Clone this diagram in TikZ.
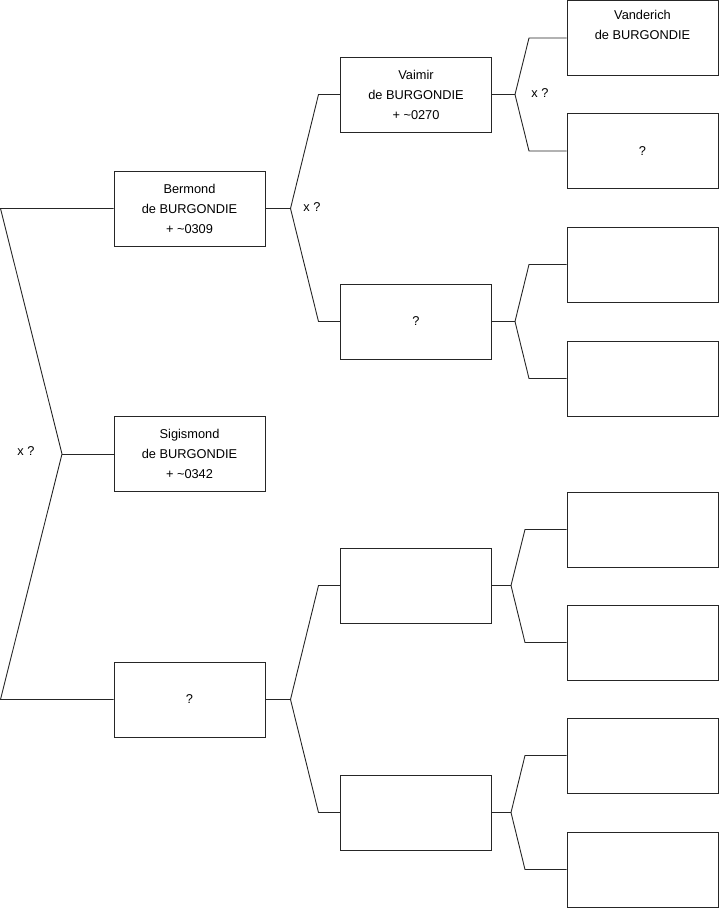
\documentclass[tikz,border=0pt]{standalone}
\usepackage{fontspec}
\setmainfont{Liberation Sans}
\begin{document}
\begin{tikzpicture}[x=1pt,y=-1pt,
  person/.style={draw=black!85,line width=0.9pt,minimum width=151pt,minimum height=75pt,inner sep=0pt,align=center,font=\fontsize{12.8}{20}\selectfont},
  link/.style={draw=black!85,line width=0.9pt},
  lbl/.style={font=\fontsize{12.8}{14}\selectfont,inner sep=0pt}]
\useasboundingbox (0,0) rectangle (719,908);
% generation 1
\node[person] (bermond) at (189.5,208.5) {Bermond\\de BURGONDIE\\+ \textasciitilde0309};
\node[person] (sigismond) at (189.5,454) {Sigismond\\de BURGONDIE\\+ \textasciitilde0342};
\node[person] (q1) at (189.5,699.5) {?};
% generation 2
\node[person] (vaimir) at (416,94.5) {Vaimir\\de BURGONDIE\\+ \textasciitilde0270};
\node[person] (q2) at (416,321.5) {?};
\node[person] (e1) at (416,585.5) {};
\node[person] (e2) at (416,812.5) {};
% generation 3
\node[person] (vanderich) at (642.5,38) {Vanderich\\de BURGONDIE\\\strut};
\node[person] (q3) at (642.5,151) {?};
\node[person] (r3) at (642.5,264.5) {};
\node[person] (r4) at (642.5,378.5) {};
\node[person] (r5) at (642.5,529.5) {};
\node[person] (r6) at (642.5,642.5) {};
\node[person] (r7) at (642.5,755.5) {};
\node[person] (r8) at (642.5,869.5) {};
% coordinates
\coordinate (t0) at (0.5,208.5);
\coordinate (b0) at (0.5,699.5);
\coordinate (j0) at (62,454);
\coordinate (j1) at (290.5,208.5);
\coordinate (t1) at (318.5,94.5);
\coordinate (b1) at (318.5,321.5);
\coordinate (j2) at (515,94.5);
\coordinate (t2) at (529,38);
\coordinate (b2) at (529,151);
\coordinate (j3) at (515,321.5);
\coordinate (t3) at (529,264.5);
\coordinate (b3) at (529,378.5);
\coordinate (j4) at (290.5,699.5);
\coordinate (t4) at (318.5,585.5);
\coordinate (b4) at (318.5,812.5);
\coordinate (j5) at (511,585.5);
\coordinate (t5) at (525,529.5);
\coordinate (b5) at (525,642.5);
\coordinate (j6) at (511,812.5);
\coordinate (t6) at (525,755.5);
\coordinate (b6) at (525,869.5);
% connectors
\draw[link] (bermond.west) -- (t0) -- (j0) -- (b0) -- (q1.west);
\draw[link] (j0) -- (sigismond.west);
\draw[link] (bermond.east) -- (j1);
\draw[link] (vaimir.west) -- (t1) -- (j1) -- (b1) -- (q2.west);
\draw[link] (vaimir.east) -- (j2);
\draw[link] (vanderich.west) -- (t2) -- (j2) -- (b2) -- (q3.west);
\draw[link] (q2.east) -- (j3);
\draw[link] (r3.west) -- (t3) -- (j3) -- (b3) -- (r4.west);
\draw[link] (q1.east) -- (j4);
\draw[link] (e1.west) -- (t4) -- (j4) -- (b4) -- (e2.west);
\draw[link] (e1.east) -- (j5);
\draw[link] (r5.west) -- (t5) -- (j5) -- (b5) -- (r6.west);
\draw[link] (e2.east) -- (j6);
\draw[link] (r7.west) -- (t6) -- (j6) -- (b6) -- (r8.west);
% labels
\node[lbl] (x0) at (26,451) {x ?};
\node[lbl] (x1) at (312,207) {x ?};
\node[lbl] (x2) at (540,93) {x ?};
\end{tikzpicture}
\end{document}
